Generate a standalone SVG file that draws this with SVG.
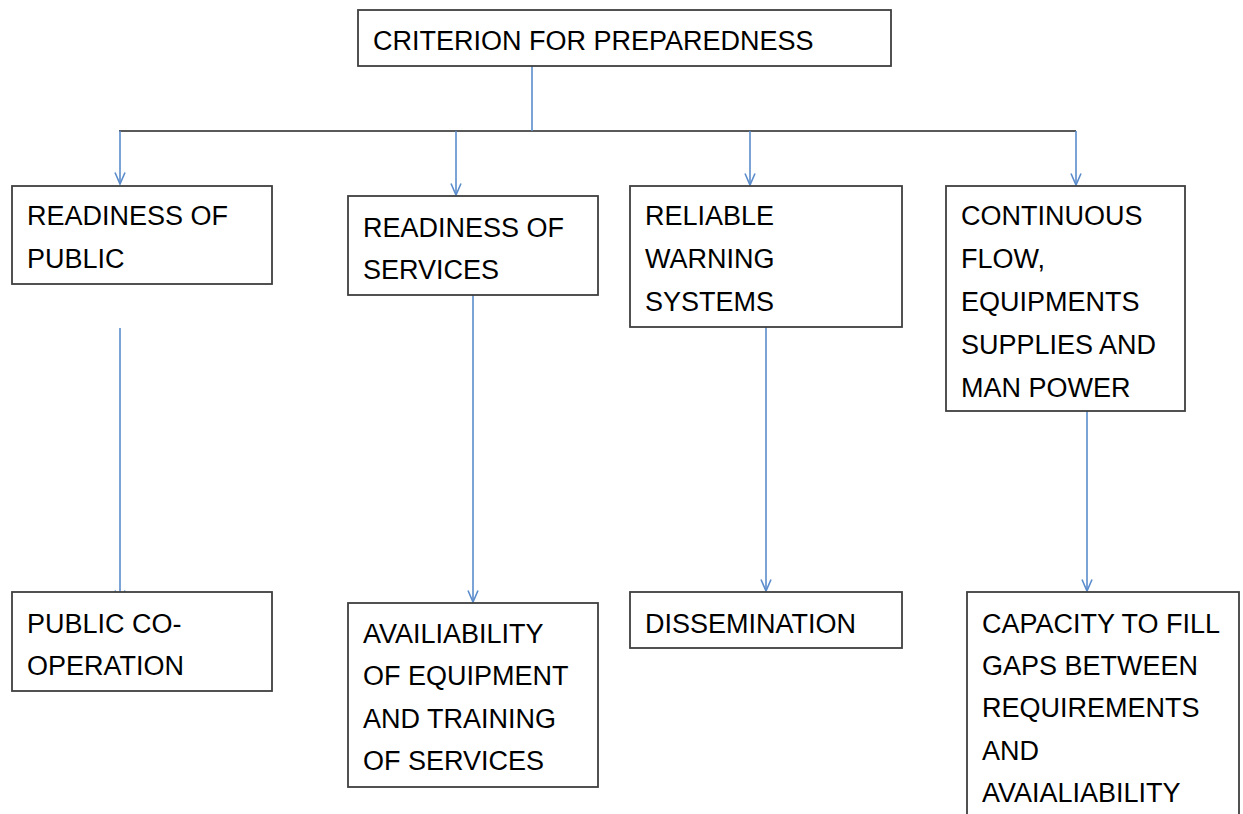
<svg xmlns="http://www.w3.org/2000/svg" width="1243" height="814" viewBox="0 0 1243 814">
  <style>
    .box { fill: #ffffff; stroke: #3f3f3f; stroke-width: 1.8; }
    .lbl { font-family: "Liberation Sans", Arial, sans-serif; font-size: 27px; fill: #000000; }
    .bus { stroke: #222222; stroke-width: 1.6; fill: none; }
    .flow { stroke: #5b8ccc; stroke-width: 1.6; fill: none; }
  </style>
  <defs>
    <marker id="vee" viewBox="0 0 14 12" refX="12.5" refY="6" markerWidth="14" markerHeight="12" markerUnits="userSpaceOnUse" orient="auto">
      <path d="M1,1 L12.5,6 L1,11" fill="none" stroke="#5b8ccc" stroke-width="1.6"/>
    </marker>
  </defs>

  <rect width="1243" height="814" fill="#ffffff"/>

  <!-- connectors -->
  <g id="connectors">
    <path class="bus" d="M119,131 H1076"/>
    <path class="flow" d="M532,66 V131"/>
    <path class="flow" d="M120,131 V184" marker-end="url(#vee)"/>
    <path class="flow" d="M456,131 V195" marker-end="url(#vee)"/>
    <path class="flow" d="M750,131 V185" marker-end="url(#vee)"/>
    <path class="flow" d="M1076,131 V185" marker-end="url(#vee)"/>
    <path class="flow" d="M120,328 V602" marker-end="url(#vee)"/>
    <path class="flow" d="M473,295 V602" marker-end="url(#vee)"/>
    <path class="flow" d="M766,327 V591" marker-end="url(#vee)"/>
    <path class="flow" d="M1087,411 V591" marker-end="url(#vee)"/>
  </g>

  <g id="criterion">
    <rect class="box" x="358" y="10" width="533" height="56"/>
    <text class="lbl" x="373" y="50">CRITERION FOR PREPAREDNESS</text>
  </g>

  <g id="readiness-public">
    <rect class="box" x="12" y="186" width="260" height="98"/>
    <text class="lbl" x="27" y="225">READINESS OF</text>
    <text class="lbl" x="27" y="268">PUBLIC</text>
  </g>

  <g id="readiness-services">
    <rect class="box" x="348" y="196" width="250" height="99"/>
    <text class="lbl" x="363" y="237">READINESS OF</text>
    <text class="lbl" x="363" y="279">SERVICES</text>
  </g>

  <g id="warning-systems">
    <rect class="box" x="630" y="186" width="272" height="141"/>
    <text class="lbl" x="645" y="225">RELIABLE</text>
    <text class="lbl" x="645" y="268">WARNING</text>
    <text class="lbl" x="645" y="311">SYSTEMS</text>
  </g>

  <g id="continuous-flow">
    <rect class="box" x="946" y="186" width="239" height="225"/>
    <text class="lbl" x="961" y="225">CONTINUOUS</text>
    <text class="lbl" x="961" y="268">FLOW,</text>
    <text class="lbl" x="961" y="311">EQUIPMENTS</text>
    <text class="lbl" x="961" y="354">SUPPLIES AND</text>
    <text class="lbl" x="961" y="397">MAN POWER</text>
  </g>

  <g id="public-cooperation">
    <rect class="box" x="12" y="592" width="260" height="99"/>
    <text class="lbl" x="27" y="633">PUBLIC CO-</text>
    <text class="lbl" x="27" y="675">OPERATION</text>
  </g>

  <g id="equipment-training">
    <rect class="box" x="348" y="603" width="250" height="184"/>
    <text class="lbl" x="363" y="643">AVAILIABILITY</text>
    <text class="lbl" x="363" y="685">OF EQUIPMENT</text>
    <text class="lbl" x="363" y="728">AND TRAINING</text>
    <text class="lbl" x="363" y="770">OF SERVICES</text>
  </g>

  <g id="dissemination">
    <rect class="box" x="630" y="592" width="272" height="56"/>
    <text class="lbl" x="645" y="633">DISSEMINATION</text>
  </g>

  <g id="capacity-gaps">
    <rect class="box" x="967" y="592" width="272" height="240"/>
    <text class="lbl" x="982" y="633">CAPACITY TO FILL</text>
    <text class="lbl" x="982" y="675">GAPS BETWEEN</text>
    <text class="lbl" x="982" y="717">REQUIREMENTS</text>
    <text class="lbl" x="982" y="760">AND</text>
    <text class="lbl" x="982" y="802">AVAIALIABILITY</text>
  </g>
</svg>
